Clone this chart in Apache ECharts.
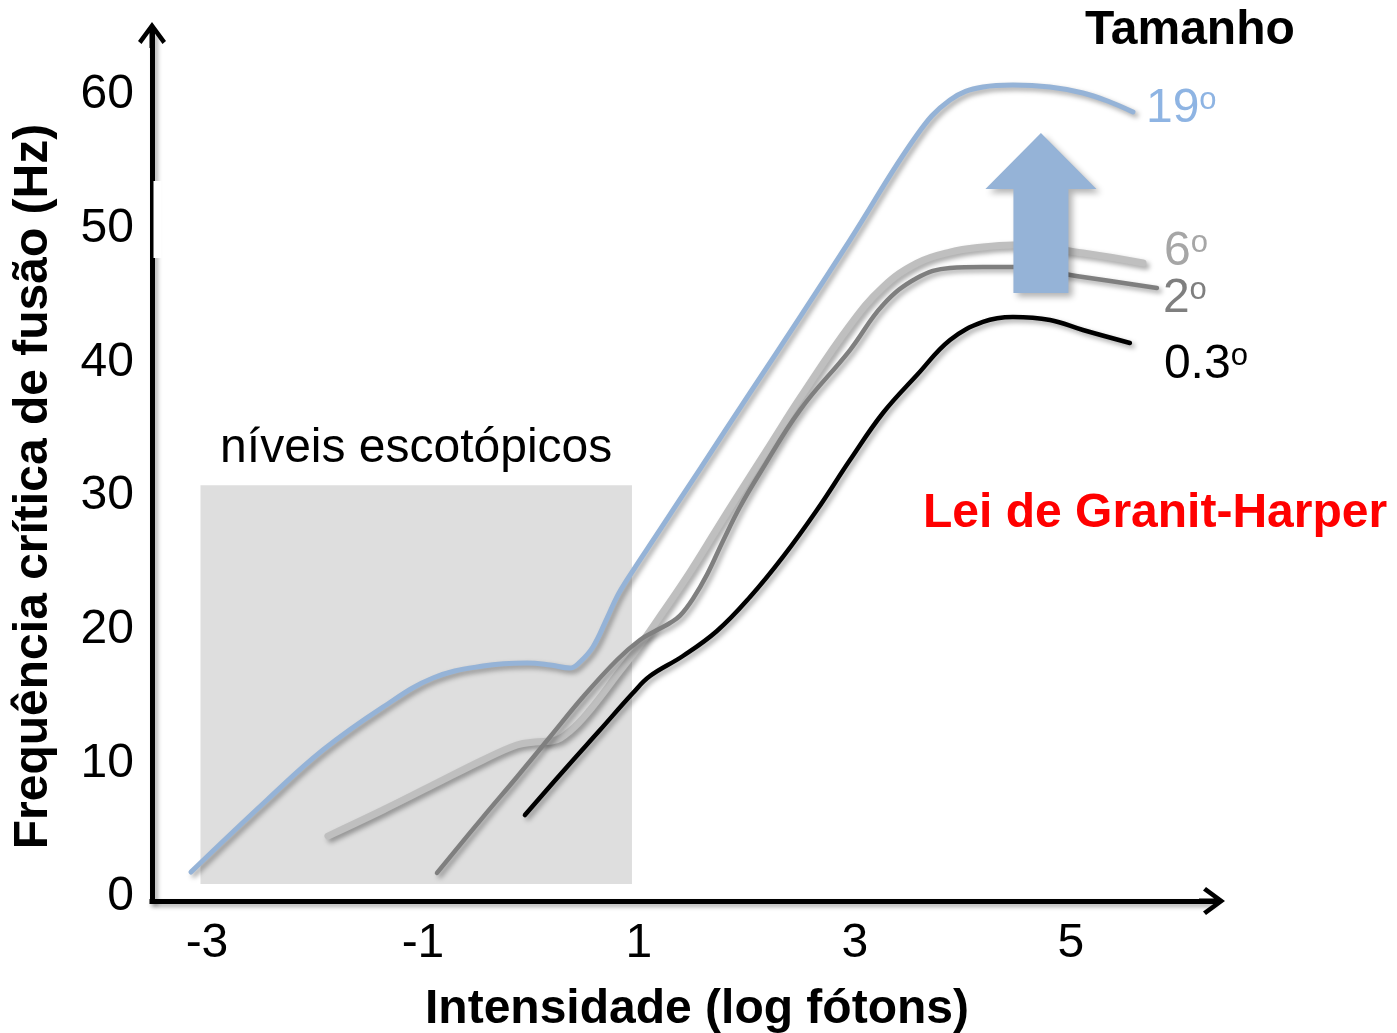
<!DOCTYPE html>
<html><head><meta charset="utf-8">
<script src="https://cdn.jsdelivr.net/npm/echarts@6/dist/echarts.min.js"></script>
<style>html,body{margin:0;padding:0;background:#fff}#c{width:1397px;height:1033px}</style>
</head><body><div id="c"></div>
<script>
const FONT = '"Liberation Sans", Arial, Helvetica, sans-serif';

// tick labels
const xTickValues = [-3, -1, 1, 3, 5];
const yTickValues = [0, 10, 20, 30, 40, 50, 60];

// curve labels (size in degrees)
const sizeNames = ['19', '6', '2', '0.3'];

// 19 deg
const x19 = [-3.148, -2.444, -1.926, -1.370, -0.907, -0.444, -0.037, 0.176, 0.361, 0.454, 0.574, 0.704, 0.796, 0.889, 1.194, 1.565, 2.028, 2.491, 2.954, 3.574, 3.880, 4.185, 4.463, 4.806, 5.111, 5.361, 5.574];
const y19 = [1.87, 7.26, 11.0, 14.21, 16.38, 17.28, 17.51, 17.36, 17.13, 17.58, 18.70, 20.85, 22.45, 23.72, 27.46, 32.02, 37.71, 43.39, 49.15, 57.01, 59.63, 60.60, 60.75, 60.60, 60.15, 59.48, 58.73];
// 6 deg
const x6 = [-1.880, -1.370, -0.907, -0.444, -0.130, 0.037, 0.194, 0.361, 0.546, 0.824, 1.009, 1.222, 1.472, 1.704, 1.935, 2.213, 2.491, 2.954, 3.259, 3.574, 3.880, 4.185, 4.463, 5.111, 5.667];
const y6 = [4.56, 6.51, 8.38, 10.25, 11.37, 11.60, 11.67, 12.42, 13.99, 16.91, 18.85, 21.32, 24.31, 27.31, 30.30, 33.81, 37.33, 42.79, 45.64, 47.43, 48.25, 48.63, 48.78, 48.18, 47.43];
// 2 deg
const x2 = [-0.870, -0.444, -0.130, 0.176, 0.481, 0.796, 1.009, 1.167, 1.287, 1.380, 1.500, 1.630, 1.778, 1.935, 2.120, 2.491, 2.954, 3.259, 3.574, 3.880, 4.185, 4.463, 5.111, 5.796];
const y2 = [1.80, 5.98, 8.98, 11.97, 14.96, 17.73, 19.23, 19.97, 20.50, 21.05, 22.32, 24.12, 26.64, 29.18, 31.72, 36.43, 40.92, 44.29, 46.31, 47.06, 47.13, 47.13, 46.38, 45.56];
// 0.3 deg
const x03 = [-0.056, 0.333, 0.639, 0.944, 1.102, 1.407, 1.722, 2.028, 2.333, 2.648, 2.954, 3.259, 3.574, 3.880, 4.185, 4.463, 4.806, 5.111, 5.546];
const y03 = [6.13, 9.73, 12.49, 15.26, 16.53, 18.03, 19.90, 22.44, 25.44, 28.95, 32.69, 36.21, 39.05, 41.67, 43.02, 43.39, 43.17, 42.42, 41.45];

// scotopic region (x range, y range)
const scotopicX = [-3.06, 0.935];
const scotopicY = [0.97, 30.8];

// size-increase arrow: [x, tip y, base y]
const arrowData = [[4.722, 57.16, 45.19]];

const zip = (xs, ys) => xs.map((x, i) => [x, ys[i]]);

const shadow = { shadowColor: 'rgba(0,0,0,0.35)', shadowBlur: 5, shadowOffsetX: 3, shadowOffsetY: 3 };
const arrowPath = 'path://M14,0 L28,19 L24.5,22 L16.5,11 L16.5,26 L11.5,26 L11.5,11 L3.5,22 L0,19 Z';

function endLabel(name, color, distance, dy) {
  return {
    show: true,
    formatter: '{n|' + name + '}{s|o}',
    distance: distance,
    offset: [0, dy],
    rich: {
      n: { fontSize: 48, lineHeight: 48, fontFamily: FONT, color: color },
      s: { fontSize: 31, lineHeight: 25, verticalAlign: 'top', fontFamily: FONT, color: color }
    }
  };
}

function lineSeries(name, data, color, width, labelColor, dist, dy, extra) {
  return Object.assign({
    name: name + 'º',
    type: 'line',
    data: data,
    smooth: 0.4,
    showSymbol: false,
    symbol: 'none',
    clip: false,
    lineStyle: Object.assign({ color: color, width: width, cap: 'round', join: 'round' }, shadow),
    endLabel: endLabel(name, labelColor, dist, dy),
    z: 3
  }, extra || {});
}

const chart = echarts.init(document.getElementById('c'), null, { renderer: 'canvas' });

chart.setOption({
  backgroundColor: '#ffffff',
  animation: false,
  grid: { left: 152, top: 35, right: 185, bottom: 132, containLabel: false, outerBoundsMode: 'none' },
  xAxis: {
    type: 'value',
    min: -3.509, max: 6.306,
    axisLine: {
      onZero: false,
      symbol: ['none', arrowPath],
      symbolSize: [28, 26],
      lineStyle: { color: '#000', width: 5, cap: 'square', shadowColor: 'rgba(0,0,0,0.3)', shadowBlur: 4, shadowOffsetX: 2, shadowOffsetY: 3 }
    },
    axisTick: { show: false },
    splitLine: { show: false },
    axisLabel: { customValues: xTickValues, fontSize: 48, fontFamily: FONT, color: '#000', margin: 19 },
    name: 'Intensidade (log fótons)',
    nameLocation: 'middle',
    nameGap: 85,
    nameTextStyle: { fontSize: 48, fontWeight: 'bold', fontFamily: FONT, color: '#000', padding: [0, 0, 0, 30] }
  },
  yAxis: {
    type: 'value',
    min: -0.299, max: 64.49,
    axisLine: {
      onZero: false,
      symbol: ['none', arrowPath],
      symbolSize: [28, 26],
      lineStyle: { color: '#000', width: 5, cap: 'square', shadowColor: 'rgba(0,0,0,0.3)', shadowBlur: 4, shadowOffsetX: 3, shadowOffsetY: 2 }
    },
    axisTick: { show: false },
    splitLine: { show: false },
    axisLabel: { customValues: yTickValues, fontSize: 48, fontFamily: FONT, color: '#000', margin: 18, padding: [7, 0, 0, 0] },
    name: 'Frequência crítica de fusão (Hz)',
    nameLocation: 'middle',
    nameRotate: 90,
    nameGap: 94,
    nameTextStyle: { fontSize: 48, fontWeight: 'bold', fontFamily: FONT, color: '#000', padding: [0, 37, 0, 0] }
  },
  series: [
    lineSeries(sizeNames[1], zip(x6, y6), '#bfbfbf', 7, '#a6a6a6', 21, -11, {
      markArea: {
        silent: true,
        z: 1,
        itemStyle: { color: '#dedede' },
        label: { show: true, position: 'top', distance: 13, color: '#000', fontSize: 48, fontFamily: FONT },
        data: [[
          { name: 'níveis escotópicos', coord: [scotopicX[0], scotopicY[0]] },
          { coord: [scotopicX[1], scotopicY[1]] }
        ]]
      }
    }),
    lineSeries(sizeNames[2], zip(x2, y2), '#7f7f7f', 4.5, '#7f7f7f', 6, 11),
    lineSeries(sizeNames[3], zip(x03, y03), '#000000', 4.5, '#000000', 34, 22),
    lineSeries(sizeNames[0], zip(x19, y19), '#95b3d7', 5, '#8eb4e3', 13, -3.5),
    {
      type: 'custom',
      name: 'arrow',
      z: 5,
      silent: true,
      data: arrowData,
      renderItem: function (params, api) {
        const tip = api.coord([api.value(0), api.value(1)]);
        const base = api.coord([api.value(0), api.value(2)]);
        const headLen = 56, headHalf = 55.5, shaftHalf = 27.5;
        const cx = tip[0], ty = tip[1], hy = ty + headLen, by = base[1];
        return {
          type: 'polygon',
          shape: { points: [[cx, ty], [cx + headHalf, hy], [cx + shaftHalf, hy], [cx + shaftHalf, by], [cx - shaftHalf, by], [cx - shaftHalf, hy], [cx - headHalf, hy]] },
          style: { fill: '#95b3d7', shadowColor: 'rgba(0,0,0,0.3)', shadowBlur: 6, shadowOffsetX: 4, shadowOffsetY: 4 }
        };
      }
    }
  ],
  graphic: [
    { type: 'text', x: 1085, y: 31, z: 10, style: { text: 'Tamanho', fontSize: 48, fontWeight: 'bold', fontFamily: FONT, fill: '#000', textAlign: 'left', textVerticalAlign: 'middle' } },
    { type: 'text', x: 923, y: 514, z: 10, style: { text: 'Lei de Granit-Harper', fontSize: 48, fontWeight: 'bold', fontFamily: FONT, fill: '#ff0000', textAlign: 'left', textVerticalAlign: 'middle' } },
    { type: 'rect', z: 20, shape: { x: 153.5, y: 181, width: 8, height: 77 }, style: { fill: '#ffffff' } }
  ]
});
</script>
</body></html>
